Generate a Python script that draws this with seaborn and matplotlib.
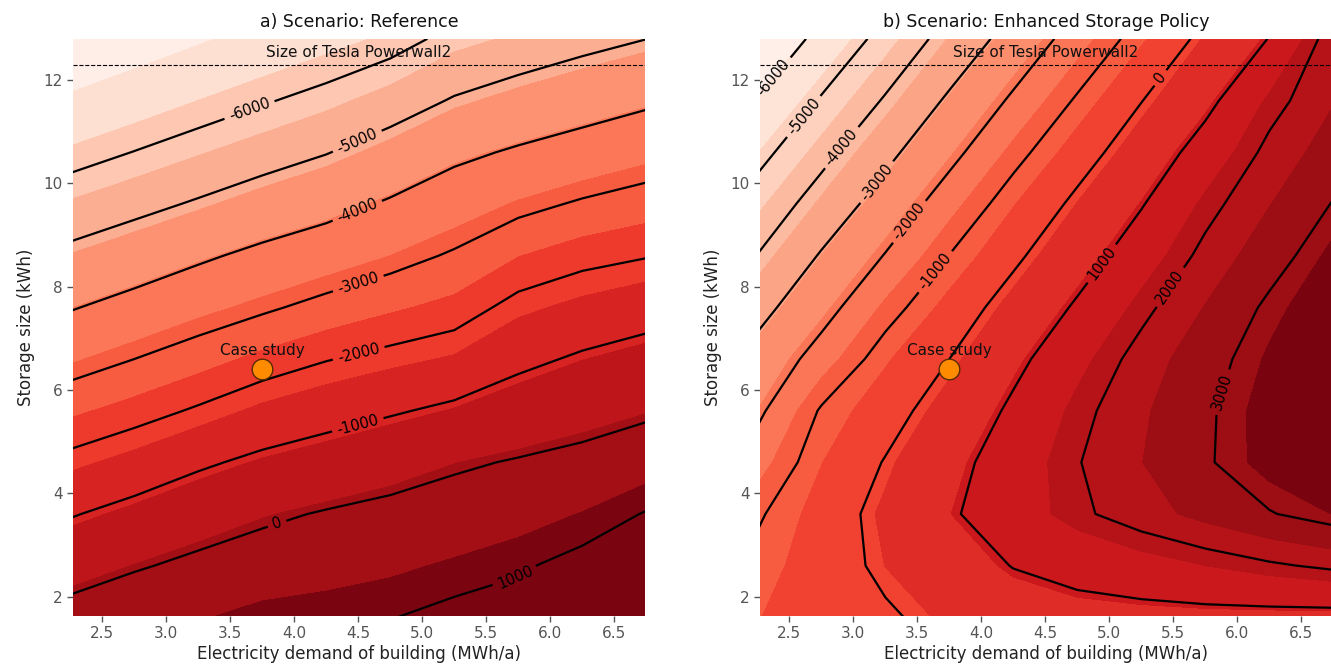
import numpy as np
import matplotlib
matplotlib.use("Agg")
import matplotlib.pyplot as plt
import seaborn as sns

# Grid of the two scenario maps
demand = [2.25, 2.75, 3.25, 3.75, 4.25, 4.75, 5.25, 5.75, 6.25, 6.75]          # MWh/a
storage = [1.6, 2.6, 3.6, 4.6, 5.6, 6.6, 7.6, 8.6, 9.6, 10.6, 11.6, 12.8]      # kWh

# rows follow `storage`, columns follow `demand`
npv_reference = [
    [295, 570, 650, 850, 900, 980, 1160, 1250, 1400, 1480],
    [-376, -80, 175, 350, 490, 604, 755, 930, 1180, 1300],
    [-1053, -742, -425, -137, 57, 204, 347, 493, 713, 1035],
    [-1805, -1484, -1120, -822, -600, -355, -110, 57, 211, 450],
    [-2565, -2259, -1920, -1556, -1304, -1080, -846, -554, -330, -128],
    [-3316, -3000, -2672, -2325, -2031, -1810, -1612, -1183, -898, -687],
    [-4052, -3725, -3400, -3105, -2800, -2540, -2307, -1793, -1529, -1317],
    [-4793, -4473, -4126, -3804, -3536, -3245, -2920, -2475, -2196, -2034],
    [-5545, -5231, -4913, -4576, -4273, -3907, -3534, -3191, -2920, -2709],
    [-6300, -5980, -5654, -5340, -5029, -4632, -4180, -3900, -3650, -3407],
    [-7060, -6724, -6390, -6065, -5754, -5379, -4932, -4632, -4377, -4125],
    [-7970, -7620, -7272, -6935, -6614, -6288, -5790, -5515, -5243, -5007],
]

npv_enhanced = [
    [-640, -330, -100, 250, 560, 720, 745, 765, 760, 750],
    [-820, -355, 160, 607, 1027, 1250, 1473, 1696, 1920, 2110],
    [-1085, -405, 260, 910, 1413, 1894, 2270, 2618, 2965, 3250],
    [-1620, -635, 42, 746, 1380, 1970, 2457, 2933, 3400, 3900],
    [-2160, -925, -300, 394, 1140, 1830, 2390, 2910, 3420, 4010],
    [-2670, -1660, -685, 0, 795, 1535, 2205, 2780, 3300, 3800],
    [-3300, -2320, -1280, -430, 340, 1100, 1850, 2490, 3110, 3550],
    [-3980, -2925, -1960, -985, -150, 630, 1410, 2155, 2760, 3350],
    [-4610, -3600, -2590, -1590, -650, 172, 953, 1810, 2450, 3030],
    [-5270, -4260, -3230, -2235, -1240, -345, 476, 1333, 2150, 2710],
    [-5960, -4920, -3915, -2860, -1865, -911, -18, 790, 1790, 2440],
    [-6790, -5750, -4708, -3667, -2633, -1642, -698, 210, 1025, 2300],
]

line_levels = [-6000, -5000, -4000, -3000, -2000, -1000, 0, 1000, 2000, 3000]

case_demand = 3.75
case_storage = 6.4
powerwall_size = 12.3

titles = ["a) Scenario: Reference", "b) Scenario: Enhanced Storage Policy"]

# where the contour labels sit
label_spots_reference = [(3.65, 11.42), (4.5, 10.77), (4.5, 9.42), (4.5, 8.06),
                         (4.5, 6.74), (4.5, 5.29), (3.86, 3.45), (5.72, 2.42)]
label_spots_enhanced = [(2.35, 12.1), (2.6, 11.32), (2.9, 10.71), (3.18, 10.03),
                        (3.42, 9.29), (3.64, 8.29), (5.39, 12.06), (4.94, 8.45),
                        (5.47, 8.0), (5.87, 5.97)]

sns.set_theme(style="white")
plt.rcParams["font.family"] = ["DejaVu Sans"]

cmap = sns.color_palette("Reds", as_cmap=True)

fig = plt.figure(figsize=(13.31, 6.71), dpi=100)
ax_left = fig.add_axes([0.0548, 0.0824, 0.4298, 0.859])
ax_right = fig.add_axes([0.571, 0.0824, 0.4298, 0.859])

panels = [
    (ax_left, npv_reference, 13, label_spots_reference),
    (ax_right, npv_enhanced, 15, label_spots_enhanced),
]

X, Y = np.meshgrid(demand, storage)

for i, (ax, values, n_fill, spots) in enumerate(panels):
    Z = np.array(values, dtype=float)
    fill_levels = np.linspace(Z.min(), Z.max(), n_fill)
    ax.contourf(X, Y, Z, levels=fill_levels, cmap=cmap)
    cs = ax.contour(X, Y, Z, levels=line_levels, colors="black",
                    linewidths=1.6, linestyles="solid")
    ax.clabel(cs, fmt="%d", fontsize=10.5, inline=True, manual=spots)

    ax.axhline(powerwall_size, color="black", linestyle="--", linewidth=0.8)
    ax.text(4.5, powerwall_size + 0.08, "Size of Tesla Powerwall2",
            ha="center", va="bottom", fontsize=11, color="#111111")

    sns.scatterplot(x=[case_demand], y=[case_storage], ax=ax, s=220,
                    color="#ff8c00", edgecolor="#5a2a00", linewidth=1.0,
                    zorder=5, legend=False)
    ax.text(case_demand, case_storage + 0.22, "Case study",
            ha="center", va="bottom", fontsize=11, color="#111111", zorder=6)

    ax.set_xlim(2.27, 6.74)
    ax.set_ylim(1.63, 12.79)
    ax.set_xticks([2.5, 3.0, 3.5, 4.0, 4.5, 5.0, 5.5, 6.0, 6.5])
    ax.set_yticks([2, 4, 6, 8, 10, 12])
    ax.set_title(titles[i], fontsize=12.5, color="#111111", pad=9)
    ax.set_xlabel("Electricity demand of building (MWh/a)", fontsize=12, color="#222222", labelpad=3)
    ax.set_ylabel("Storage size (kWh)", fontsize=12, color="#222222", labelpad=6)
    ax.tick_params(axis="both", which="both", length=4, width=1, color="#555555",
                   labelcolor="#555555", labelsize=11, bottom=True, left=True)
    for spine in ax.spines.values():
        spine.set_visible(False)

fig.savefig("out.png", dpi=100)
